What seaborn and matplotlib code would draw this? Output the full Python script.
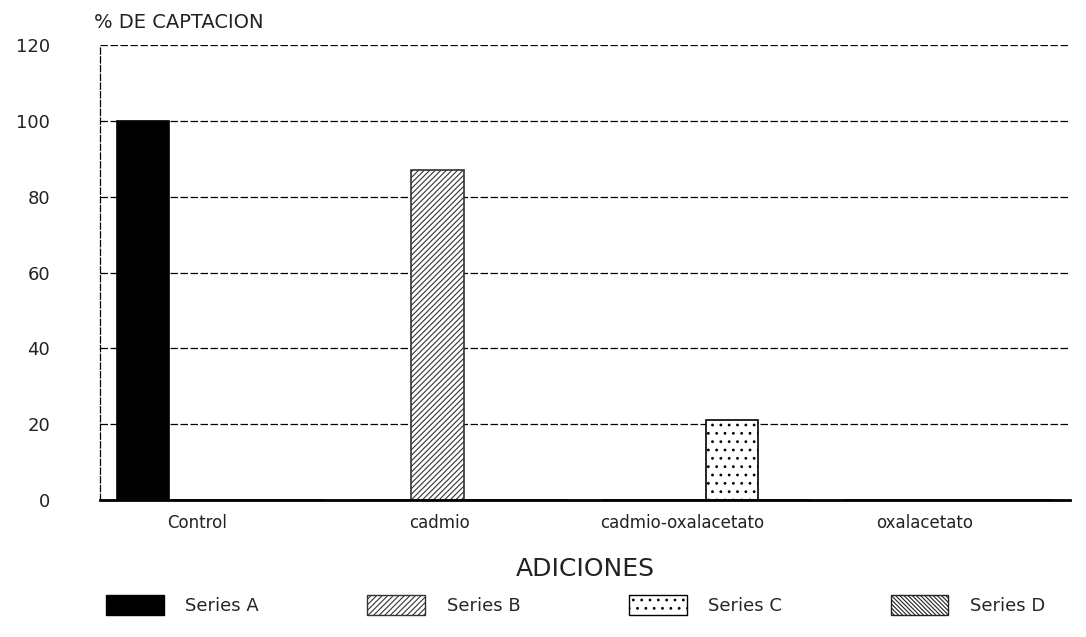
import matplotlib
matplotlib.use("Agg")
import matplotlib.pyplot as plt
import seaborn as sns
import pandas as pd
from matplotlib.patches import Patch

sns.set_theme(style="white")
plt.rcParams['font.family'] = ['DejaVu Sans']
plt.rcParams['hatch.linewidth'] = 0.8

categories = ["Control", "cadmio", "cadmio-oxalacetato", "oxalacetato"]
series = ["Series A", "Series B", "Series C", "Series D"]
# each series only has a value in its own category
values = [
    [100, 0, 0, 0],
    [0, 87, 0, 0],
    [0, 0, 21, 0],
    [0, 0, 0, 0],
]
yticks = [0, 20, 40, 60, 80, 100, 120]

rows = []
for s, vals in zip(series, values):
    for c, v in zip(categories, vals):
        rows.append({"categoria": c, "serie": s, "valor": v})
df = pd.DataFrame(rows)

styles = {
    "Series A": dict(facecolor="black", edgecolor="black", hatch=None),
    "Series B": dict(facecolor="white", edgecolor="#333333", hatch="//////"),
    "Series C": dict(facecolor="white", edgecolor="black", hatch=".."),
    "Series D": dict(facecolor="white", edgecolor="#222222", hatch="\\\\\\\\\\\\\\\\"),
}

fig = plt.figure(figsize=(10.86, 6.37), dpi=100)
ax = fig.add_axes([0.092, 0.215, 0.893, 0.714])

sns.barplot(data=df, x="categoria", y="valor", hue="serie", order=categories,
            hue_order=series, width=0.86, ax=ax, legend=False, saturation=1)

for s, cont in zip(series, ax.containers):
    st = styles[s]
    for bar in cont:
        bar.set_facecolor(st["facecolor"])
        bar.set_edgecolor(st["edgecolor"])
        bar.set_linewidth(1.2)
        if st["hatch"]:
            bar.set_hatch(st["hatch"])

ax.set_ylim(0, 120)
ax.set_xlim(-0.5, 3.5)
ax.set_yticks(yticks)
ax.set_yticklabels([str(t) for t in yticks], fontsize=13, color="#222222")
# category labels sit a little left of the group centres in the original
ax.set_xticks([i - 0.1 for i in range(len(categories))])
ax.set_xticklabels(categories)
ax.tick_params(axis="y", length=0, pad=36)
ax.tick_params(axis="x", length=0, pad=10, labelsize=12)
for lab in ax.get_xticklabels():
    lab.set_color("#222222")

ax.grid(axis="y", linestyle=(0, (6, 2)), color="black", linewidth=0.9)
ax.set_axisbelow(True)
for side in ["top", "right"]:
    ax.spines[side].set_visible(False)
ax.spines["left"].set_linestyle((0, (5, 2)))
ax.spines["left"].set_linewidth(0.9)
ax.spines["left"].set_color("black")
ax.spines["bottom"].set_linewidth(2)
ax.spines["bottom"].set_color("black")

ax.set_xlabel("ADICIONES", fontsize=18, color="#222222", labelpad=18)
ax.set_ylabel("")
fig.text(0.087, 0.965, "% DE CAPTACION", fontsize=14, color="#222222",
         ha="left", va="center")

handles = [Patch(facecolor=styles[s]["facecolor"], edgecolor=styles[s]["edgecolor"],
                 hatch=styles[s]["hatch"], label=s) for s in series]
fig.legend(handles=handles, loc="center", bbox_to_anchor=(0.53, 0.05), ncol=4,
           frameon=False, fontsize=13, handlelength=3.2, handleheight=1.3,
           columnspacing=6.0, handletextpad=1.2)

fig.savefig("out.png", dpi=100)
